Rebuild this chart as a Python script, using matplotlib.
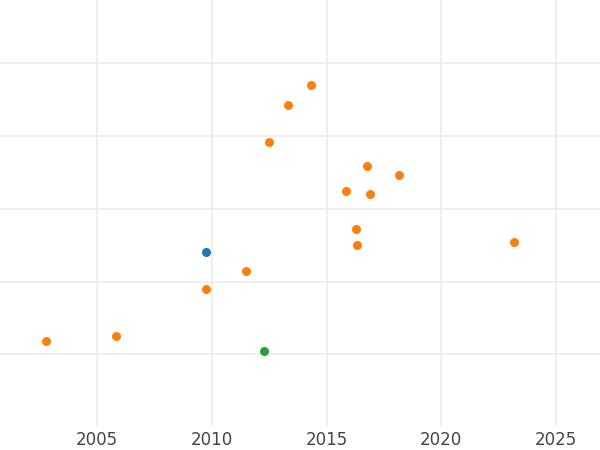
import matplotlib.pyplot as plt

# orange series
orange_x = [2014.31, 2013.33, 2012.48, 2016.75, 2018.17, 2015.84, 2016.88,
            2016.30, 2016.32, 2023.19, 2011.48, 2009.75, 2005.83, 2002.76]
orange_y = [4.698, 4.423, 3.914, 3.584, 3.460, 3.245, 3.203,
            2.718, 2.502, 2.544, 2.149, 1.898, 1.252, 1.183]
# blue series
blue_x = [2009.75]
blue_y = [2.410]
# green series
green_x = [2012.28]
green_y = [1.045]

x_ticks = [2005, 2010, 2015, 2020, 2025]
y_ticks = [1, 2, 3, 4, 5]

fig = plt.figure(figsize=(6, 4.5), dpi=100)
ax = fig.add_axes([0, 0.051, 1, 0.949])

ax.scatter(blue_x, blue_y, s=42, color='#1f77b4', zorder=3, linewidths=0)
ax.scatter(orange_x, orange_y, s=42, color='#ff7f0e', zorder=3, linewidths=0)
ax.scatter(green_x, green_y, s=42, color='#2ca02c', zorder=3, linewidths=0)

ax.set_xlim(2000.758, 2026.92)
ax.set_ylim(0, 5.87)
ax.set_xticks(x_ticks)
ax.set_xticklabels([str(t) for t in x_ticks])
ax.set_yticks(y_ticks)
ax.set_yticklabels([])

ax.grid(True, color='#ebebeb', linewidth=1.1)
ax.set_axisbelow(True)
for s in ax.spines.values():
    s.set_visible(False)
ax.tick_params(axis='both', length=0, colors='#444444', labelsize=12, pad=3)

fig.savefig('out.png', dpi=100)
